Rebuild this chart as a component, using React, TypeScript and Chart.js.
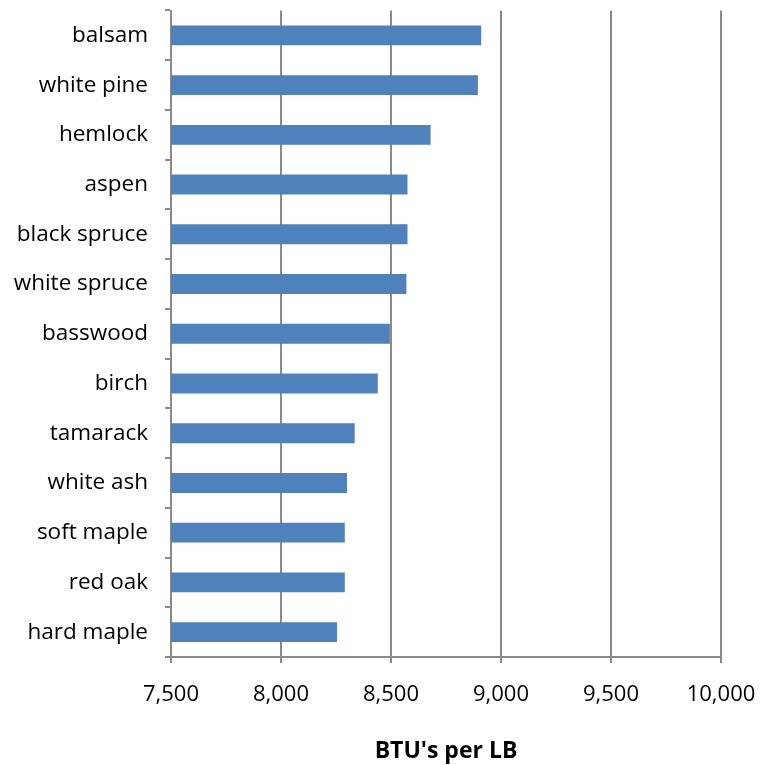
import React, { useEffect, useRef } from "react";
import { Chart, registerables } from "chart.js";

Chart.register(...registerables);

const categories = [
  "balsam",
  "white pine",
  "hemlock",
  "aspen",
  "black spruce",
  "white spruce",
  "basswood",
  "birch",
  "tamarack",
  "white ash",
  "soft maple",
  "red oak",
  "hard maple",
];

const btuValues = [8910, 8895, 8680, 8575, 8575, 8570, 8495, 8440, 8335, 8300, 8290, 8290, 8255];

const xMin = 7500;
const xMax = 10000;
const xStep = 500;

const FONT = "'Open Sans', 'Liberation Sans', sans-serif";
const AXIS_GRAY = "#8a8a8a";

function zeroPadding(scale: any) {
  scale.paddingTop = 0;
  scale.paddingBottom = 0;
  scale.paddingLeft = 0;
  scale.paddingRight = 0;
}

export default function App() {
  const ref = useRef<HTMLCanvasElement | null>(null);

  useEffect(() => {
    const canvas = ref.current;
    if (!canvas) return;
    const chart = new Chart(canvas, {
      type: "bar",
      data: {
        labels: categories,
        datasets: [
          {
            label: "BTU's per LB",
            data: btuValues,
            backgroundColor: "#4F81BD",
            borderColor: "#4F81BD",
            borderWidth: 0,
            barPercentage: 0.4,
            categoryPercentage: 1,
          },
        ],
      },
      options: {
        indexAxis: "y",
        responsive: false,
        animation: false,
        layout: { padding: { left: 0, right: 41, top: 10.5, bottom: 0 } },
        plugins: {
          legend: { display: false },
          tooltip: { enabled: false },
        },
        scales: {
          x: {
            min: xMin,
            max: xMax,
            ticks: {
              stepSize: xStep,
              color: "#000",
              font: { family: FONT, size: 22 },
              padding: 19,
              maxRotation: 0,
              callback: (v: any) => Number(v).toLocaleString("en-US"),
            },
            grid: {
              color: AXIS_GRAY,
              lineWidth: 2,
              drawTicks: true,
              tickLength: 6,
            },
            border: { display: true, color: AXIS_GRAY, width: 2 },
            title: {
              display: true,
              text: "BTU's per LB",
              color: "#000",
              font: { family: FONT, size: 23, weight: "bold" },
              padding: { top: 4, bottom: 0 },
            },
            afterFit: (scale: any) => {
              scale.height = 765 - 657;
              zeroPadding(scale);
            },
          },
          y: {
            offset: true,
            ticks: {
              color: "#000",
              font: { family: FONT, size: 22.5 },
              padding: 17,
            },
            grid: {
              offset: true,
              drawOnChartArea: false,
              drawTicks: true,
              tickLength: 6,
              color: AXIS_GRAY,
              lineWidth: 2,
            },
            border: { display: true, color: AXIS_GRAY, width: 2 },
            afterFit: (scale: any) => {
              scale.width = 171;
              zeroPadding(scale);
            },
          },
        },
      },
    });
    return () => chart.destroy();
  }, []);

  return (
    <canvas
      ref={ref}
      width={762}
      height={765}
      style={{ position: "fixed", left: 0, top: 0, width: 762, height: 765, background: "#fff" }}
    />
  );
}
